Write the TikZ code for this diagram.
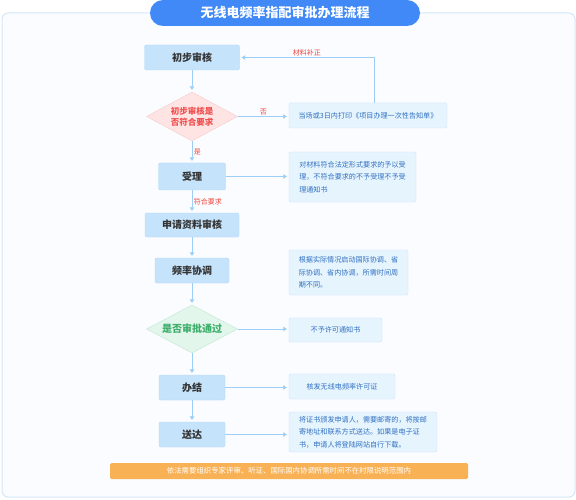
\documentclass[tikz,border=0pt]{standalone}
\usepackage{fontspec}
\usepackage{xcolor}
\usetikzlibrary{shapes.geometric}
\usetikzlibrary{arrows.meta}
\newfontfamily\cjk{Noto Sans CJK SC}
\definecolor{titleblue}{HTML}{4189F6}
\definecolor{framecol}{HTML}{D3E7F8}
\definecolor{framefill}{HTML}{FAFCFF}
\definecolor{mainfill}{HTML}{C6E3FC}
\definecolor{mainline}{HTML}{B2D7F7}
\definecolor{maintext}{HTML}{333333}
\definecolor{notefill}{HTML}{E6F4FE}
\definecolor{noteline}{HTML}{C9E4FA}
\definecolor{notetext}{HTML}{2F6FC0}
\definecolor{linkblue}{HTML}{9CCEF6}
\definecolor{labelred}{HTML}{F0443A}
\definecolor{nofill}{HTML}{FFE4E4}
\definecolor{noline}{HTML}{F8CACA}
\definecolor{notxt}{HTML}{F0504F}
\definecolor{okfill}{HTML}{E3F6EC}
\definecolor{okline}{HTML}{BDE8CF}
\definecolor{oktxt}{HTML}{3DAE6A}
\definecolor{barorange}{HTML}{F9B155}

\begin{document}
\begin{tikzpicture}[
			     x=1pt, y=-1pt,
			     title bar/.style={rectangle, rounded corners=13pt, fill=titleblue, text=white, minimum width=270pt, minimum height=26pt, font=\cjk\bfseries\fontsize{13}{15}\selectfont},
			     main box/.style={rectangle, rounded corners=2pt, draw=mainline, fill=mainfill, text=maintext, inner sep=0pt, font=\cjk\bfseries\fontsize{10}{12}\selectfont},
			     note box/.style={rectangle, rounded corners=1.5pt, draw=noteline, fill=notefill, text=notetext, inner sep=0pt, align=left, font=\cjk\fontsize{7.1}{12.5}\selectfont},
			     check/.style={diamond, aspect=1.86, inner sep=0pt, align=center, font=\cjk\bfseries\fontsize{8.5}{11}\selectfont},
			     red label/.style={text=labelred, inner sep=1.5pt, font=\cjk\fontsize{7}{8}\selectfont},
			     normal line/.style={draw=linkblue, line width=0.8pt, -{Triangle[width=4.5pt,length=3.5pt]}, shorten >=2pt}
			     ]
\useasboundingbox (0,0) rectangle (576,500);
\draw[framecol, fill=framefill, line width=1pt, rounded corners=6pt] (2,13) rectangle (575,497);
\node[title bar] (title) at (285,13) {无线电频率指配审批办理流程};

\node[main box, minimum width=95pt, minimum height=25pt] (chubu) at (192,57.5) {初步审核};
\node[check, draw=noline, fill=nofill, text=notxt, minimum width=91pt, minimum height=49pt] (check1) at (192,116.5) {初步审核是\\否符合要求};
\node[main box, minimum width=67pt, minimum height=27pt] (shouli) at (192,176.5) {受理};
\node[main box, minimum width=94pt, minimum height=24pt] (shenqing) at (192,225) {申请资料审核};
\node[main box, minimum width=74pt, minimum height=25pt] (pinlv) at (192,270.5) {频率协调};
\node[check, draw=okline, fill=okfill, text=oktxt, minimum width=91pt, minimum height=48pt, font=\cjk\bfseries\fontsize{10}{12}\selectfont] (check2) at (192,329) {是否审批通过};
\node[main box, minimum width=66pt, minimum height=25pt] (banjie) at (192,387.5) {办结};
\node[main box, minimum width=66pt, minimum height=25pt] (songda) at (192,434.5) {送达};

\node[note box, minimum width=158pt, minimum height=25pt] (dangchang) at (368,115.5) {当场或3日内打印《项目办理一次性告知单》};
\node[note box, minimum width=127pt, minimum height=50pt] (duicailiao) at (352.5,177) {对材料符合法定形式要求的予以受\\理，不符合要求的不予受理不予受\\理通知书};
\node[note box, minimum width=119pt, minimum height=45pt] (genju) at (348.5,272.5) {根据实际情况启动国际协调、省\\际协调、省内协调，所需时间周\\期不同。};
\node[note box, minimum width=93pt, minimum height=24pt] (buyu) at (335.5,330) {不予许可通知书};
\node[note box, minimum width=106pt, minimum height=25pt] (hefa) at (342,386.5) {核发无线电频率许可证};
\node[note box, minimum width=148pt, minimum height=40pt] (jiang) at (363,432) {将证书颁发申请人，需要邮寄的，将按邮\\寄地址和联系方式送达。如果是电子证\\书，申请人将登陆网站自行下载。};

\node[rectangle, rounded corners=1.5pt, fill=barorange, text=white, minimum width=358pt, minimum height=16pt, inner sep=0pt, font=\cjk\fontsize{7.4}{9}\selectfont] (bar) at (289,471) {依法需要组织专家评审、听证、国际国内协调所需时间不在时限说明范围内};

\coordinate (loop top) at (374,57.5);
\path (chubu) edge[normal line] (check1);
\path (check1) edge[normal line] node[right, red label] {是} (shouli);
\path (shouli) edge[normal line] node[right, red label] {符合要求} (shenqing);
\path (shenqing) edge[normal line] (pinlv);
\path (pinlv) edge[normal line] (check2);
\path (check2) edge[normal line] (banjie);
\path (banjie) edge[normal line] (songda);
\path (check1.east) edge[normal line] node[above, red label] {否} (dangchang.west |- check1.east);
\path (shouli.east) edge[normal line] (duicailiao.west |- shouli.east);
\path (check2.east) edge[normal line] (buyu.west |- check2.east);
\path (banjie.east) edge[normal line] (hefa.west |- banjie.east);
\path (songda.east) edge[normal line] (jiang.west |- songda.east);
\draw[normal line] (dangchang.north -| loop top) |- node[pos=0.75, above, red label] {材料补正} (chubu.east);
\end{tikzpicture}
\end{document}
